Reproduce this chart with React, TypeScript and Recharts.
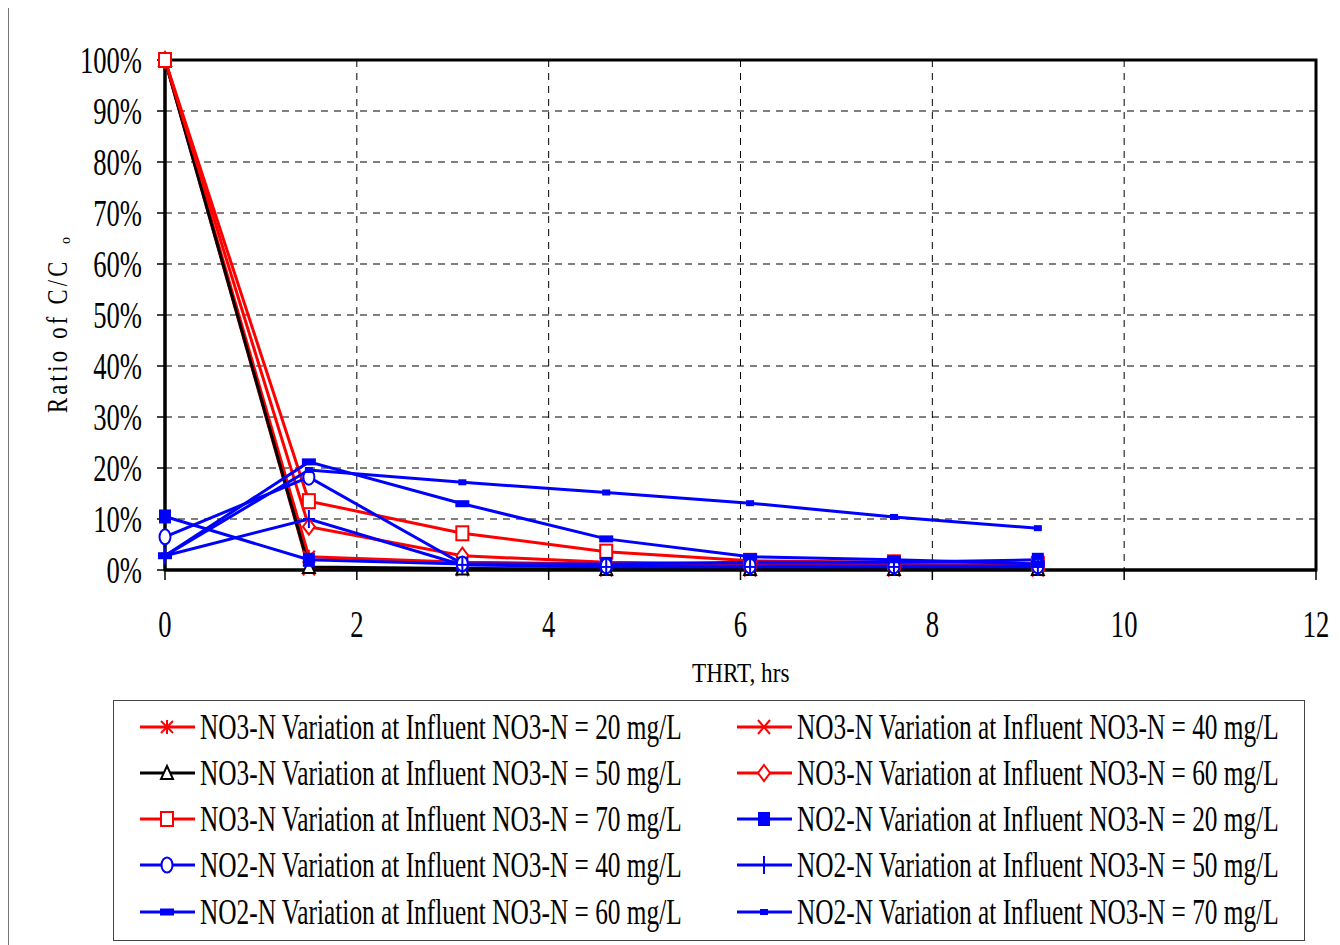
import React from 'react';
import { LineChart, Line, XAxis, YAxis, CartesianGrid, ReferenceArea } from 'recharts';

const hours = [0, 1.5, 3.1, 4.6, 6.1, 7.6, 9.1];
const no3At20 = [100, 2.6, 1.5, 1.2, 1.0, 1.0, 0.8];
const no3At40 = [100, 0.3, 0.2, 0.1, 0.1, 0.1, 0.1];
const no3At50 = [100, 0.6, 0.3, 0.2, 0.2, 0.2, 0.2];
const no3At60 = [100, 8.5, 2.8, 1.5, 1.2, 1.2, 1.0];
const no3At70 = [100, 13.5, 7.2, 3.6, 1.8, 1.5, 1.2];
const no2At20 = [10.5, 2.0, 1.2, 1.2, 1.5, 1.5, 2.0];
const no2At40 = [6.5, 18.2, 1.2, 0.8, 0.8, 0.8, 0.8];
const no2At50 = [2.8, 10.0, 1.0, 0.6, 0.6, 0.6, 0.6];
const no2At60 = [2.8, 21.2, 13.0, 6.1, 2.6, 2.0, 1.2];
const no2At70 = [2.8, 19.6, 17.2, 15.2, 13.1, 10.4, 8.2];

const xTicks = [0, 2, 4, 6, 8, 10, 12];
const yTicks = [0, 10, 20, 30, 40, 50, 60, 70, 80, 90, 100];

const FONT = '"Liberation Serif", "Times New Roman", serif';
const RED = '#ff0000';
const BLUE = '#0000ff';

type MarkerKind = 'asterisk' | 'cross' | 'triangle' | 'diamond' | 'square' | 'filledSquare' | 'circle' | 'plus' | 'dash' | 'smallDash';

interface Series {
  key: string;
  name: string;
  values: number[];
  color: string;
  marker: MarkerKind;
}

const series: Series[] = [
  { key: 'a', name: 'NO3-N Variation at Influent NO3-N = 20 mg/L', values: no3At20, color: RED, marker: 'asterisk' },
  { key: 'b', name: 'NO3-N Variation at Influent NO3-N = 40 mg/L', values: no3At40, color: RED, marker: 'cross' },
  { key: 'c', name: 'NO3-N Variation at Influent NO3-N = 50 mg/L', values: no3At50, color: '#000000', marker: 'triangle' },
  { key: 'd', name: 'NO3-N Variation at Influent NO3-N = 60 mg/L', values: no3At60, color: RED, marker: 'diamond' },
  { key: 'e', name: 'NO3-N Variation at Influent NO3-N = 70 mg/L', values: no3At70, color: RED, marker: 'square' },
  { key: 'f', name: 'NO2-N Variation at Influent NO3-N = 20 mg/L', values: no2At20, color: BLUE, marker: 'filledSquare' },
  { key: 'g', name: 'NO2-N Variation at Influent NO3-N = 40 mg/L', values: no2At40, color: BLUE, marker: 'circle' },
  { key: 'h', name: 'NO2-N Variation at Influent NO3-N = 50 mg/L', values: no2At50, color: BLUE, marker: 'plus' },
  { key: 'i', name: 'NO2-N Variation at Influent NO3-N = 60 mg/L', values: no2At60, color: BLUE, marker: 'dash' },
  { key: 'j', name: 'NO2-N Variation at Influent NO3-N = 70 mg/L', values: no2At70, color: BLUE, marker: 'smallDash' },
];

const rows = hours.map((x, i) => {
  const row: Record<string, number> = { x };
  series.forEach((s) => {
    row[s.key] = s.values[i];
  });
  return row;
});

const Marker = ({ kind, cx, cy, color }: { kind: MarkerKind; cx: number; cy: number; color: string }) => {
  switch (kind) {
    case 'asterisk':
      return (
        <g stroke={color} strokeWidth={2}>
          <line x1={cx} y1={cy - 7} x2={cx} y2={cy + 7} />
          <line x1={cx - 6} y1={cy - 6} x2={cx + 6} y2={cy + 6} />
          <line x1={cx - 6} y1={cy + 6} x2={cx + 6} y2={cy - 6} />
        </g>
      );
    case 'cross':
      return (
        <g stroke={color} strokeWidth={2}>
          <line x1={cx - 6} y1={cy - 7} x2={cx + 6} y2={cy + 7} />
          <line x1={cx - 6} y1={cy + 7} x2={cx + 6} y2={cy - 7} />
        </g>
      );
    case 'triangle':
      return <polygon points={`${cx},${cy - 7} ${cx - 6},${cy + 6} ${cx + 6},${cy + 6}`} fill="#fff" stroke={color} strokeWidth={2} />;
    case 'diamond':
      return <polygon points={`${cx},${cy - 8} ${cx + 6},${cy} ${cx},${cy + 8} ${cx - 6},${cy}`} fill="#fff" stroke={color} strokeWidth={2} />;
    case 'square':
      return <rect x={cx - 6} y={cy - 7} width={12} height={14} fill="#fff" stroke={color} strokeWidth={2} />;
    case 'filledSquare':
      return <rect x={cx - 6} y={cy - 7} width={12} height={14} fill={color} />;
    case 'circle':
      return <ellipse cx={cx} cy={cy} rx={5.5} ry={7.5} fill="#fff" stroke={color} strokeWidth={2} />;
    case 'plus':
      return (
        <g stroke={color} strokeWidth={2}>
          <line x1={cx} y1={cy - 9} x2={cx} y2={cy + 9} />
          <line x1={cx - 6} y1={cy} x2={cx + 6} y2={cy} />
        </g>
      );
    case 'dash':
      return <rect x={cx - 7} y={cy - 3.5} width={14} height={7} fill={color} />;
    case 'smallDash':
      return <rect x={cx - 4} y={cy - 3} width={8} height={6} fill={color} />;
    default:
      return null;
  }
};

const XTick = (props: any) => {
  const { x, payload } = props;
  return (
    <g transform={`translate(${x},632) scale(0.72,1)`}>
      <text textAnchor="middle" fontSize={37} fontFamily={FONT} fill="#000">
        {payload.value}
      </text>
    </g>
  );
};

const YTick = (props: any) => {
  const { y, payload } = props;
  return (
    <g transform={`translate(134,${y + 13}) scale(0.72,1)`}>
      <text textAnchor="end" fontSize={37} fontFamily={FONT} fill="#000">
        {payload.value}%
      </text>
    </g>
  );
};

const legendRows = [722, 768, 814, 860, 907];
const legendCols = [
  { line: 132, text: 192 },
  { line: 729, text: 789 },
];

const Overlay = () => (
  <svg width={1332} height={940} style={{ position: 'absolute', left: 0, top: 0, pointerEvents: 'none' }}>
    <line x1={0.5} y1={0} x2={0.5} y2={940} stroke="#777" strokeWidth={1} />
    <line x1={0} y1={0.5} x2={1332} y2={0.5} stroke="#777" strokeWidth={1} />
    <g transform="translate(59,408) rotate(-90) scale(0.75,1)">
      <text fontSize={30} fontFamily={FONT} letterSpacing={4.4}>
        Ratio of C/C
      </text>
    </g>
    <text transform="translate(62,239) rotate(-90)" fontSize={14} fontFamily={FONT}>
      o
    </text>
    <g transform="translate(684,677) scale(0.86,1)">
      <text fontSize={27} fontFamily={FONT}>
        THRT, hrs
      </text>
    </g>
    <rect x={105.5} y={695.5} width={1191} height={240} fill="#fff" stroke="#444" strokeWidth={1} />
    {series.map((s, i) => {
      const col = legendCols[i % 2];
      const cy = legendRows[Math.floor(i / 2)];
      return (
        <g key={s.key}>
          <line x1={col.line} y1={cy} x2={col.line + 55} y2={cy} stroke={s.color} strokeWidth={3} />
          <Marker kind={s.marker} cx={col.line + 27} cy={cy} color={s.color} />
          <g transform={`translate(${col.text},${cy + 12}) scale(0.724,1)`}>
            <text fontSize={35} fontFamily={FONT}>
              {s.name}
            </text>
          </g>
        </g>
      );
    })}
  </svg>
);

export default function App() {
  return (
    <div style={{ position: 'relative', width: 1332, height: 940, marginTop: -3, background: '#fff' }}>
      <LineChart width={1332} height={940} data={rows} margin={{ top: 55, right: 24, left: 0, bottom: 0 }}>
        <CartesianGrid stroke="#000" strokeDasharray="7 6" strokeWidth={1} />
        <XAxis
          dataKey="x"
          type="number"
          domain={[0, 12]}
          ticks={xTicks}
          height={375}
          axisLine={{ stroke: '#000', strokeWidth: 3 }}
          tickLine={{ stroke: '#000', strokeWidth: 1.5 }}
          tickSize={10}
          tick={<XTick />}
          interval={0}
        />
        <YAxis
          type="number"
          domain={[0, 100]}
          ticks={yTicks}
          width={157}
          axisLine={{ stroke: '#000', strokeWidth: 3 }}
          tickLine={{ stroke: '#000', strokeWidth: 1.5 }}
          tickSize={8}
          tick={<YTick />}
          interval={0}
        />
        <ReferenceArea x1={0} x2={12} y1={0} y2={100} fill="none" stroke="#000" strokeWidth={3} ifOverflow="visible" />
        {series.map((s) => (
          <Line
            key={s.key}
            type="linear"
            dataKey={s.key}
            name={s.name}
            stroke={s.color}
            strokeWidth={3}
            isAnimationActive={false}
            dot={(p: any) => <Marker key={`${s.key}-${p.index}`} kind={s.marker} cx={p.cx} cy={p.cy} color={s.color} />}
            activeDot={false}
          />
        ))}
      </LineChart>
      <Overlay />
    </div>
  );
}
